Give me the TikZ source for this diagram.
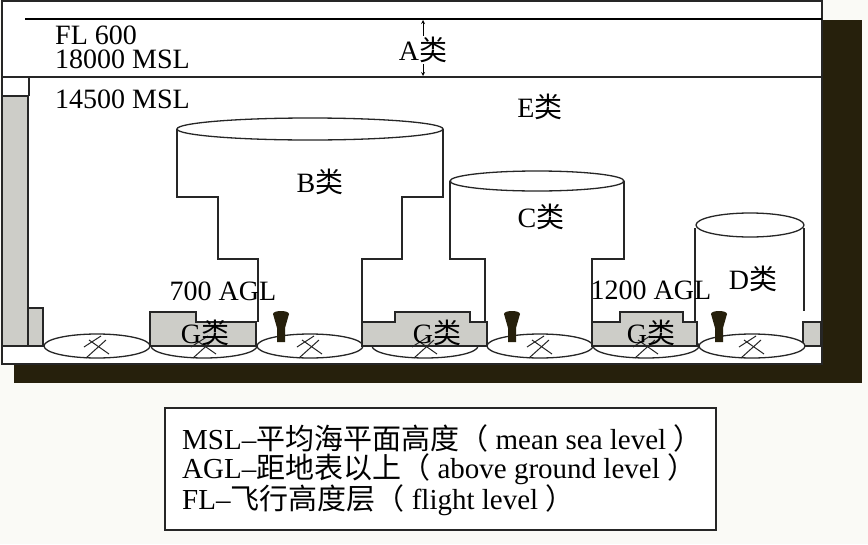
\documentclass[tikz,border=0pt]{standalone}
\usepackage{fontspec}
\setmainfont{Liberation Serif}
\newfontfamily\cjk{Noto Sans CJK SC}
\begin{document}
\begin{tikzpicture}[x=1pt,y=-1pt,
  ln/.style={draw=black!85,line width=1.3pt},
  gbox/.style={ln,fill=gfill},
  lbl/.style={font=\fontsize{28}{24}\selectfont,inner sep=0pt},
  leg/.style={font=\fontsize{29}{31}\selectfont,inner sep=0pt},
  cross/.style={draw=black!85,line width=1pt}]
\definecolor{gfill}{RGB}{205,205,200}
\definecolor{shad}{RGB}{38,32,12}
\definecolor{bg}{RGB}{250,250,246}
\useasboundingbox (0,0) rectangle (868,544);
\fill[bg] (0,0) rectangle (868,544);
% shadow
\fill[shad] (14,365) rectangle (862,383);
\fill[shad] (822,20) rectangle (862,383);
% frame
\draw[ln,fill=white] (2,1) rectangle (822,364);
\draw[draw=black,line width=2.2pt] (25,19) -- (822,19);
\draw[ln] (2,77) -- (822,77);
\draw[ln] (29,77) -- (29,96);
\draw[<->,>=stealth,line width=0.8pt] (423,20) -- (423,76);
\node[lbl,fill=white,inner sep=1pt] (a) at (423,50) {A\cjk 类};
% left gray
\draw[gbox] (2,96) rectangle (28,346);
\draw[gbox] (28,308) rectangle (43,346);
\draw[gbox] (803,322) rectangle (821,346);
% ground ellipses
\foreach \cx in {97,204,310,425,540,646,752}{
  \draw[ln,fill=white] (\cx,346) ellipse (53 and 12);
}
% G boxes
\draw[gbox] (150,346) -- (150,312) -- (196,312) -- (196,322) -- (256,322) -- (256,346) -- cycle;
\draw[gbox] (362,346) -- (362,322) -- (395,322) -- (395,312) -- (470,312) -- (470,322) -- (487,322) -- (487,346) -- cycle;
\draw[gbox] (592,346) -- (592,322) -- (620,322) -- (620,312) -- (683,312) -- (683,322) -- (697,322) -- (697,346) -- cycle;
% crosses
\foreach \cx in {97,204,310,425,540,646,752}{
  \draw[cross] (\cx-11,358) -- (\cx+9,340);
  \draw[cross] (\cx-8,340) -- (\cx+12,354);
  \draw[cross] (\cx-13,347) -- (\cx+4,336);
}
% beacons
\foreach \bx in {281,512,719}{
  \fill[shad] (\bx-8,314) .. controls (\bx-8,310) and (\bx+8,310) .. (\bx+8,314)
     -- (\bx+4,328) -- (\bx+4,342) -- (\bx-4,342) -- (\bx-4,328) -- cycle;
}
% B
\draw[ln] (177,129) -- (177,197) -- (218,197) -- (218,259) -- (258,259) -- (258,322);
\draw[ln] (443,129) -- (443,197) -- (402,197) -- (402,259) -- (362,259) -- (362,322);
\draw[ln,fill=white] (310,129) ellipse (133 and 11);
% C
\draw[ln] (450,181) -- (450,259) -- (485,259) -- (485,322);
\draw[ln] (624,181) -- (624,259) -- (592,259) -- (592,322);
\draw[ln,fill=white] (537,181) ellipse (87 and 10);
% D
\draw[ln] (695,228) -- (695,322);
\draw[ln] (804,228) -- (804,311);
\draw[ln,fill=white] (750,225) ellipse (54 and 12);
% labels
\node[lbl,anchor=west,align=left] (fl) at (55,47) {FL 600\\18000 MSL};
\node[lbl,anchor=west] (msl14) at (55,99) {14500 MSL};
\node[lbl] (e) at (540,107) {E\cjk 类};
\node[lbl] (b) at (320,182) {B\cjk 类};
\node[lbl] (c) at (541,217) {C\cjk 类};
\node[lbl] (d) at (753,279) {D\cjk 类};
\node[lbl] (g1) at (205,333) {G\cjk 类};
\node[lbl] (g2) at (437,333) {G\cjk 类};
\node[lbl] (g3) at (651,333) {G\cjk 类};
\node[lbl] (agl7) at (223,291) {700 AGL};
\node[lbl] (agl12) at (651,290) {1200 AGL};
% legend
\draw[ln,fill=white] (165,408) rectangle (716,530);
\node[leg,anchor=west] (l1) at (182,438) {MSL–{\cjk 平均海平面高度（}~mean sea level~{\cjk ）}};
\node[leg,anchor=west] (l2) at (182,469) {AGL–{\cjk 距地表以上（}~above ground level~{\cjk ）}};
\node[leg,anchor=west] (l3) at (182,500) {FL–{\cjk 飞行高度层（}~flight level~{\cjk ）}};
\end{tikzpicture}
\end{document}
